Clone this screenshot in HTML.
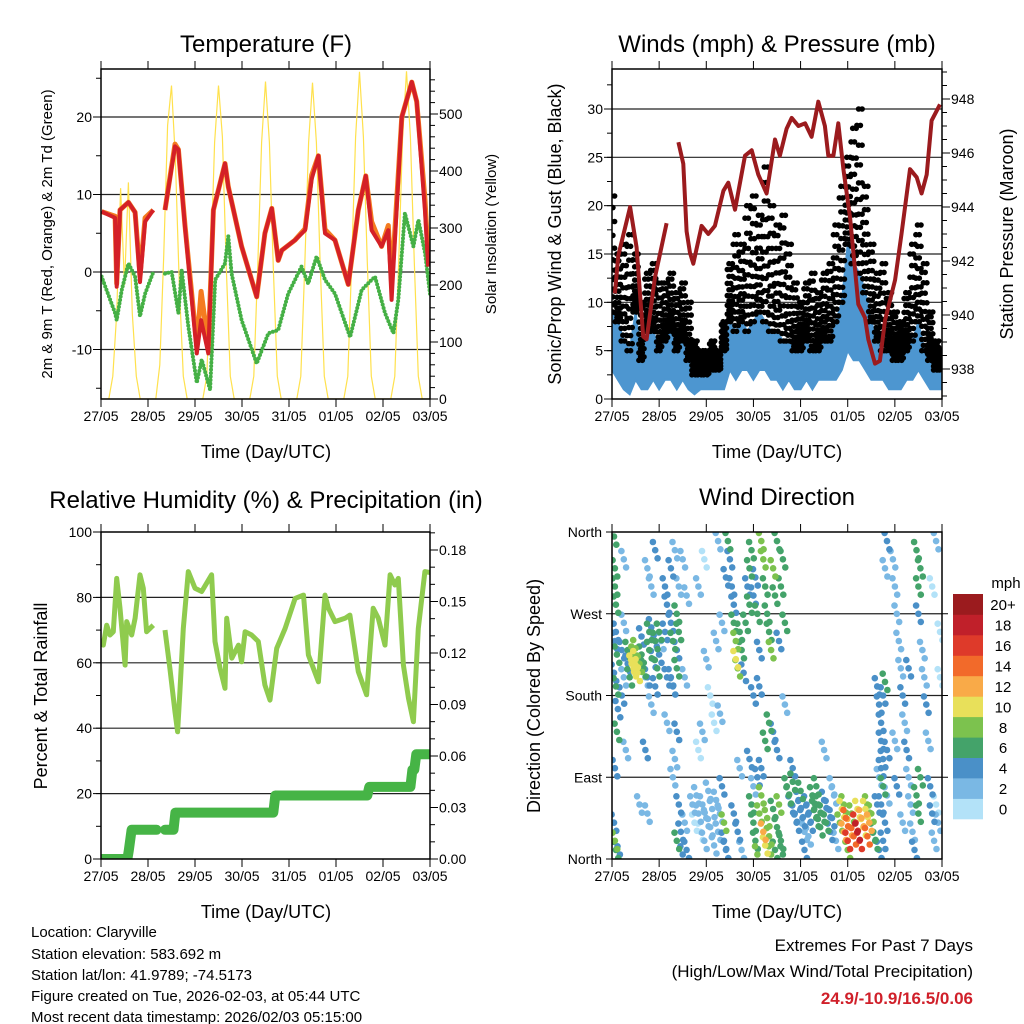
<!DOCTYPE html>
<html><head><meta charset="utf-8"><style>
html,body{margin:0;padding:0;background:#fff;}
svg{display:block;font-family:"Liberation Sans",Arial,sans-serif;}
</style></head><body>
<svg id="fig" width="1024" height="1024" viewBox="0 0 1024 1024" xmlns="http://www.w3.org/2000/svg">
<defs>
<clipPath id="c1"><rect x="101" y="69" width="329" height="330"/></clipPath>
<clipPath id="c2"><rect x="612" y="69" width="330" height="330"/></clipPath>
<clipPath id="c3"><rect x="101" y="532" width="329" height="327"/></clipPath>
<clipPath id="c4"><rect x="612" y="532" width="330" height="327"/></clipPath>
</defs>
<text x="266" y="52" font-size="24" text-anchor="middle">Temperature (F)</text>
<text x="777" y="52" font-size="24" text-anchor="middle">Winds (mph) &amp; Pressure (mb)</text>
<text x="266" y="508" font-size="24" text-anchor="middle">Relative Humidity (%) &amp; Precipitation (in)</text>
<text x="777" y="505" font-size="24" text-anchor="middle">Wind Direction</text>
<text transform="translate(52,234) rotate(-90)" font-size="15" text-anchor="middle">2m &amp; 9m T (Red, Orange) &amp; 2m Td (Green)</text>
<text transform="translate(496,234) rotate(-90)" font-size="15" text-anchor="middle">Solar Insolation (Yellow)</text>
<text transform="translate(561,234) rotate(-90)" font-size="18" text-anchor="middle">Sonic/Prop Wind &amp; Gust (Blue, Black)</text>
<text transform="translate(1013,234) rotate(-90)" font-size="18" text-anchor="middle">Station Pressure (Maroon)</text>
<text transform="translate(47,696) rotate(-90)" font-size="18" text-anchor="middle">Percent &amp; Total Rainfall</text>
<text transform="translate(540,696) rotate(-90)" font-size="18" text-anchor="middle">Direction (Colored By Speed)</text>
<text x="266" y="458" font-size="18" text-anchor="middle">Time (Day/UTC)</text>
<text x="777" y="458" font-size="18" text-anchor="middle">Time (Day/UTC)</text>
<text x="266" y="918" font-size="18" text-anchor="middle">Time (Day/UTC)</text>
<text x="777" y="918" font-size="18" text-anchor="middle">Time (Day/UTC)</text>
<g font-size="15">
<text x="31" y="937">Location: Claryville</text>
<text x="31" y="959">Station elevation: 583.692 m</text>
<text x="31" y="980">Station lat/lon: 41.9789; -74.5173</text>
<text x="31" y="1001">Figure created on Tue, 2026-02-03, at 05:44 UTC</text>
<text x="31" y="1022">Most recent data timestamp: 2026/02/03 05:15:00</text>
</g>
<g text-anchor="end">
<text x="973" y="951" font-size="17">Extremes For Past 7 Days</text>
<text x="973" y="977" font-size="17">(High/Low/Max Wind/Total Precipitation)</text>
<text x="973" y="1004" font-size="17" font-weight="bold" fill="#d0202a">24.9/-10.9/16.5/0.06</text>
</g>
<g id="layer"></g>
</svg>
<script>
// ---- data ----
const dayLabels=["27/05","28/05","29/05","30/05","31/05","01/05","02/05","03/05"];
const tempHours=[0.3,7.2,8,9.7,14,17.4,19.9,22.5,26.7,null,32.7,37.8,39.5,42.9,48.9,51.1,54.8,57.4,63.3,65,71.8,79.5,83.7,87.2,90.5,92.3,99,104.2,107.6,111,114.4,119.5,126.3,131.4,135.2,138.2,143.3,146.7,148.4,153.6,158.7,161.2,165.4,167.1];
const temp2m=[7.8,7,-1.9,8,9,7.7,-1.3,6.5,8,null,8,16.2,15.8,5.8,-10.5,-6.2,-10.5,8,14,11,3.3,-3.2,5,8.2,1.5,2.8,4.1,5.4,12,15,5,4.1,-1.6,8,12.4,5.4,3.3,5.4,-3.6,20,24.5,22,8,0.7];
const temp9m=[7.8,7.2,-1.5,8,9,7.7,-0.5,7,8,null,8,16.5,15.8,6,-9.5,-2.5,-9.5,8,14,11,3.3,-3.2,5,8.2,1.5,2.8,4.1,5.6,12.5,15,5.5,4.1,-1.6,8,12.4,6.5,3.3,6,-1.5,20,24.5,22,9.5,2];
const dewHours=[0.3,7.2,8,10.6,14,17.4,19.9,22.5,26.7,null,32.7,36.1,39.5,41.2,44.6,48.9,51.4,55.7,58.3,63.3,65,66.7,71.8,79.5,85.5,90.5,95.6,102.4,105.8,110.1,114.4,119.5,127.2,133.1,139.9,145,149.3,151.8,155.2,159.5,162.1,165.5,168];
const dewPoint=[-0.6,-5.3,-6.2,-2.3,1.1,-0.6,-5.7,-2.8,0,null,-0.2,0,-5.3,0.2,-7,-14.3,-11.3,-15.2,-1,1.1,4.6,-0.2,-6.2,-11.8,-7.9,-7.5,-2.8,0.7,-1.5,2,-1,-2.8,-8.4,-2.3,-0.6,-5.3,-7.9,-3.6,7.6,3.3,6.7,2.4,-2.8];
const solarHours=[0,2,4,6,8,10,12,14,16,18,20,22,24,26,28,30,32,34,36,38,40,42,44,46,48,50,52,54,56,58,60,62,64,66,68,70,72,74,76,78,80,82,84,86,88,90,92,94,96,98,100,102,104,106,108,110,112,114,116,118,120,122,124,126,128,130,132,134,136,138,140,142,144,146,148,150,152,154,156,158,160,162,164,166,168];
const solar=[0,0,0,40,150,370,200,380,150,40,0,0, 0,0,0,60,250,480,550,420,200,40,0,0, 0,0,0,40,230,450,550,460,230,40,0,0, 0,0,0,40,230,450,557,450,230,40,0,0, 0,0,0,40,230,450,555,450,230,40,0,0, 0,0,0,40,240,460,574,460,240,40,0,0, 0,0,0,40,240,460,575,460,240,40,0,0, 0];
const windHours=[0,3,6,9,12,15,18,21,24,27,30,33,36,39,42,45,48,51,54,57,60,63,66,69,72,75,78,81,84,87,90,93,96,99,102,105,108,111,114,117,120,123,126,129,132,135,138,141,144,147,150,153,156,159,162,165,168];
const gustTop=[21,15,16,17,15,10,13,14,12,12,13,11,12,10,6,5,5,6,5,8,14,17,16,20,21,19,24,20,18,19,16,12,10,12,13,11,13,14,18,22,25,28,30,22,16,13,14,11,9,8,11,16,18,14,9,6,5];
const windHigh=[9,8,6,5,9,4,7,7,5,6,7,5,6,4,2.5,2.5,2.5,3,3,5,8,7,8,7,8,9,8,7,7,6,6,5,5,6,5,5,6,6,8,10,16,14,13,11,8,6,5,5,4,4,5,6,8,5,4,3,3];
const windLow=[3,2,1,0.5,2,1,1,2,1,2,2,1,2,1,0.5,1,1,1,1,1,3,2,3,3,2,3,3,2,2,1,2,1,1,2,1,2,2,2,2,3,5,4,4,3,2,2,2,1,1,1,2,2,3,2,1,1,1];
const presHours=[1.5,3.2,9.2,12.5,15.9,17.6,21.9,27.8,null,33.8,36.3,38,39.7,41.4,45.6,49,52.4,56.7,59.2,62.6,67.7,71.1,74.5,78.7,83,85.5,88.9,91.5,94.9,98.3,101.6,105,108.4,110.1,112.7,115.2,117.8,121.2,125.4,128.8,130.5,133.9,136.4,139,144.1,147.4,151.7,155.1,157.6,160.2,162.7,167];
const pressure=[940.8,942.2,944.0,942.5,939.2,939.1,941.4,943.4,null,946.4,945.6,943.1,942.3,941.9,943.3,943.0,943.3,944.6,944.9,943.9,945.9,946.1,945.2,944.5,946.5,945.9,946.9,947.3,947.0,947.1,946.6,947.9,947.0,945.9,945.9,947.1,945.4,943.6,940.4,939.9,939.1,938.2,938.3,939.8,941.3,943.0,945.4,945.1,944.5,945.2,947.2,947.8];
const rhHours=[0.3,1.2,2.9,4.6,6.3,8,9.7,12.3,13.1,15.7,17.4,19.9,21.6,23.3,26.7,null,32.7,35.2,37.8,39.1,40.3,42,44.6,48,51.4,56.5,58.2,60.8,63.3,64.2,66.8,70.2,71.8,73.6,76.9,80.3,83.7,86.3,89.7,94,99.1,103.4,105.9,111,114.4,116.1,119.5,124.6,127.1,131.4,135.6,139,141.6,145,147.6,150.1,151.8,154.4,157,159.5,162,165.4,168];
const rh=[67.5,65.4,71.5,68.5,69.5,85.8,76.7,59.3,72.6,68.5,73.6,86.9,82.8,69.5,71.5,null,70,58.3,45,38.9,51.2,70.5,87.9,82.8,81.8,86.9,66.5,58.3,52.2,73.6,61.4,65.4,60.3,69.5,68.5,66.5,53.2,48.6,64.4,70.5,79.7,80.7,62.4,54.2,80.7,76.7,72.6,73.6,74.6,57.3,50.2,76.7,73.6,65.4,86.9,83.8,85.8,59.3,49.1,42,70.5,87.9,87.6];
const precipHours=[0,13.5,14.2,15.6,28.4,null,32.7,37,38,88,89,136,137,158,159,160,161,168];
const precip=[0,0,0.005,0.017,0.017,null,0.017,0.017,0.027,0.027,0.037,0.037,0.042,0.042,0.052,0.052,0.061,0.061];
const dirHours=[1,1.5,1.5,2,2,1.5,2.5,1,2,3,2.5,1.5,1,1.5,2,4,6,6,5,6,5,7,8,8,
10,11,12,13,11,14,12,9,15,16,17,15,18,19,19,20,21,22,23,22,24,25,24,20,18,22,17,18,14,20,
27,28,27,28,30,31,30,31,33,33,34,33,30,32,34,28,33,32,34,35,33,36,37,38,36,38,37,31,
41,42,43,44,45,46,47,48,49,50,51,52,53,54,55,56,57,57,58,44,46,52,55,50,48,53,56,44,47,54,58,
59,60,61,62,62,63,63,64,65,66,67,68,69,70,70,71,72,73,74,75,76,77,78,79,80,81,82,83,84,85,86,87,88,75,72,80,82,78,70,65,84,88,
71,72,73,74,75,76,77,78,79,80,81,82,83,84,85,86,87,74,76,72,64,66,62,
89,90,91,92,93,94,95,96,97,98,99,100,101,102,103,104,105,106,107,108,109,110,111,112,113,114,96,100,104,92,108,112,98,
116,117,118,119,120,121,122,123,124,125,126,127,128,129,130,131,132,133,134,135,118,125,130,120,
135,136,137,137,138,137,136,138,137,139,138,136,139,138,140,140,139,140,
143,144,145,146,147,148,149,150,151,152,153,154,155,156,157,156,158,159,160,161,162,163,164,165,166,167,167,165,163,155,156,157,145,148,151,144];
const dirDegrees=[355,320,300,280,250,240,225,205,190,165,140,100,40,20,10,5,330,260,230,200,180,120,215,230,
215,210,220,205,225,215,232,200,225,210,200,245,200,230,250,255,220,240,210,190,225,240,250,300,320,340,120,50,60,170,
300,280,250,200,260,240,200,190,230,210,250,270,320,340,300,150,140,110,60,30,20,5,40,10,330,290,200,90,
60,40,70,50,30,60,20,45,75,35,55,15,65,30,50,80,20,40,10,120,140,150,160,180,220,240,260,300,330,350,310,
350,330,300,280,260,240,220,210,250,230,205,260,300,280,320,340,290,310,270,230,350,330,300,270,250,230,320,290,350,240,300,330,260,190,180,150,140,130,110,100,120,170,
60,40,20,5,50,70,30,15,45,25,5,55,10,35,60,20,5,90,100,80,30,10,50,
80,70,60,85,50,40,65,55,45,30,60,50,40,70,55,45,60,35,50,65,40,55,30,45,70,20,75,25,80,100,120,80,10,
40,55,30,45,20,35,50,25,40,30,20,45,35,55,25,40,50,30,20,60,60,55,60,10,
190,170,150,130,110,100,90,80,60,40,20,10,195,180,120,70,320,350,
330,300,270,240,210,180,150,120,90,60,30,10,340,300,320,270,230,200,170,130,80,50,20,60,40,200,250,350,300,70,50,90,80,40,210,130];
const dirSpeeds=[6,7,6,7,5,4,6,4,6,5,7,4,5,8,6,4,2,3,4,3,5,2,5,6,
10,10,10,10,9,8,8,6,7,6,3,4,5,7,6,4,5,7,6,4,4,3,6,3,2,4,4,2,2,3,
4,4,5,4,5,6,4,5,5,6,7,7,4,2,3,3,4,2,5,4,6,5,3,4,2,3,2,2,
2,1,2,2,1,2,2,3,2,2,3,3,2,3,2,4,5,8,4,1,2,1,2,1,2,3,2,2,1,2,4,
6,5,4,5,7,8,10,9,6,6,4,6,5,7,6,6,4,5,6,5,8,8,6,6,7,8,8,6,6,4,7,7,6,4,4,6,5,7,4,3,4,3,
7,6,6,8,9,8,12,10,8,9,8,7,6,7,8,6,7,5,4,3,4,3,4,
6,7,5,6,4,5,4,4,4,3,4,4,5,6,6,7,7,6,7,5,6,5,4,4,3,3,7,3,6,4,2,3,4,
8,10,12,14,16,12,9,14,16,18,17,12,10,11,14,12,9,7,6,5,9,10,9,8,
4,5,4,4,4,5,3,6,4,5,4,5,6,4,4,3,3,4,
2,3,2,3,2,4,2,4,3,2,3,4,7,6,7,4,2,3,4,2,5,4,3,1,3,1,1,2,1,7,6,7,4,2,5,2];
const speedColors=["#b3e2f8","#7ab8e4","#4a90c8","#44a36a","#7cc24e","#e8e05a","#f9aa48","#f26a2a","#de3a2a","#c0202a","#9b1b1e"];
const speedLabels=["0","2","4","6","8","10","12","14","16","18","20+"];

// ---- helpers ----
const NS="http://www.w3.org/2000/svg";
const layer=document.getElementById('layer');
function mk(tag,attrs,parent){const e=document.createElementNS(NS,tag);for(const k in attrs)e.setAttribute(k,attrs[k]);(parent||layer).appendChild(e);return e;}
function lin(d0,d1,r0,r1){return v=>r0+(v-d0)/(d1-d0)*(r1-r0);}
function pathD(xs,ys,fx,fy){let d="",pen=false;for(let i=0;i<xs.length;i++){if(xs[i]===null||ys[i]===null){pen=false;continue;}d+=(pen?"L":"M")+fx(xs[i]).toFixed(1)+","+fy(ys[i]).toFixed(1);pen=true;}return d;}

const P=[{x0:101,x1:430,y0:69,y1:399},{x0:612,x1:942,y0:69,y1:399},{x0:101,x1:430,y0:532,y1:859},{x0:612,x1:942,y0:532,y1:859}];
const X=P.map(p=>lin(0,168,p.x0,p.x1));
const yT=lin(0,10,272,194.5), yS=lin(0,100,399,342);
const yW=lin(0,30,399,109), yP=lin(948,938,99,369);
const yRH=lin(0,100,859,532), yPr=lin(0,0.03,859,807.5);
const yD=lin(0,360,859,532);

function grid(pi,vals,fy,name){const p=P[pi];vals.forEach(v=>{const l=mk('line',{x1:p.x0,x2:p.x1,y1:fy(v),y2:fy(v),stroke:'#222','stroke-width':1.2});

});}
function yTicks(pi,side,vals,fy,len,labels,name){const p=P[pi];const x=side==='l'?p.x0:p.x1;const s=side==='l'?-1:1;
vals.forEach((v,i)=>{const l=mk('line',{x1:x,x2:x+s*len,y1:fy(v),y2:fy(v),stroke:'#000','stroke-width':1});


if(labels&&labels[i]!==undefined&&labels[i]!==""){const t=mk('text',{x:x+s*(len+4),y:fy(v)+5,'font-size':14,'text-anchor':side==='l'?'end':'start'});t.textContent=labels[i];

}});}
function frame(pi){const p=P[pi];const r=mk('rect',{x:p.x0,y:p.y0,width:p.x1-p.x0,height:p.y1-p.y0,fill:'none',stroke:'#000','stroke-width':1.5});


dayLabels.forEach((lab,i)=>{const x=X[pi](i*24);
const a=mk('line',{x1:x,x2:x,y1:p.y1,y2:p.y1+8,stroke:'#000'});


const b=mk('line',{x1:x,x2:x,y1:p.y0,y2:p.y0-8,stroke:'#000'});


const t=mk('text',{x:x,y:p.y1+22,'font-size':14,'text-anchor':'middle'});t.textContent=lab;

});}

// ---- Panel 1: Temperature ----
grid(0,[20,10,0,-10],yT,'temp-gridline');
const g1=mk('g',{'clip-path':'url(#c1)'});
let e=mk('path',{d:pathD(solarHours,solar,X[0],yS),fill:'none',stroke:'#ffe14d','stroke-width':1.2},g1);


e=mk('path',{d:pathD(dewHours,dewPoint,X[0],yT),fill:'none',stroke:'#45b045','stroke-width':4,'stroke-linecap':'round','stroke-dasharray':'0 3.5'},g1);


e=mk('path',{d:pathD(tempHours,temp9m,X[0],yT),fill:'none',stroke:'#f47b20','stroke-width':5,'stroke-linejoin':'round'},g1);


e=mk('path',{d:pathD(tempHours,temp2m,X[0],yT),fill:'none',stroke:'#d42027','stroke-width':4,'stroke-linejoin':'round'},g1);


frame(0);
yTicks(0,'l',[-15,-10,-5,0,5,10,15,20,25],yT,5,["","-10","","0","","10","","20",""],'temp-y');
yTicks(0,'l',[-10,0,10,20],yT,8,null,'temp-y-major');
{const v=[],l=[];for(let s=0;s<=560;s+=20){v.push(s);l.push(s%100===0?String(s):"");}yTicks(0,'r',v,yS,5,l,'solar-y');yTicks(0,'r',[0,100,200,300,400,500],yS,8,null,'solar-y-major');}

// ---- Panel 2: Winds ----
grid(1,[5,10,15,20,25,30],yW,'wind-gridline');
const g2=mk('g',{'clip-path':'url(#c2)'});
{let d="";windHours.forEach((h,i)=>{d+=(i?"L":"M")+X[1](h).toFixed(1)+","+yW(windHigh[i]).toFixed(1);});
for(let i=windHours.length-1;i>=0;i--)d+="L"+X[1](windHours[i]).toFixed(1)+","+yW(windLow[i]).toFixed(1);
e=mk('path',{d:d+"Z",fill:'#4d96d0',stroke:'#4d96d0','stroke-width':2},g2);

}
const fr=[0,0.06,0.13,0.2,0.28,0.36,0.45,0.55,0.66,0.78,0.9,1];
const offs=[-1.3,-0.45,0.45,1.3];
windHours.forEach((h,i)=>{fr.forEach((f,k)=>{offs.forEach((o,j)=>{if((k+j)%2)return;const v=windHigh[i]+f*(gustTop[i]-windHigh[i]);
const c=mk('circle',{cx:X[1](h+o).toFixed(1),cy:yW(v).toFixed(1),r:2.8,fill:'#000'},g2);

});});});
e=mk('path',{d:pathD(presHours,pressure,X[1],yP),fill:'none',stroke:'#9b1b1e','stroke-width':4,'stroke-linejoin':'round'},g2);


frame(1);
{const v=[],l=[];for(let s=0;s<=32.5;s+=2.5){v.push(s);l.push(s%5===0?String(s):"");}yTicks(1,'l',v,yW,5,l,'wind-y');yTicks(1,'l',[0,5,10,15,20,25,30],yW,8,null,'wind-y-major');}
{const v=[],l=[];for(let s=937;s<=949;s+=0.5){v.push(s);l.push(s%2===0?String(s):"");}yTicks(1,'r',v,yP,5,l,'pressure-y');yTicks(1,'r',[938,940,942,944,946,948],yP,8,null,'pressure-y-major');}

// ---- Panel 3: RH & Precip ----
grid(2,[20,40,60,80],yRH,'rh-gridline');
const g3=mk('g',{'clip-path':'url(#c3)'});
e=mk('path',{d:pathD(precipHours,precip,X[2],yPr),fill:'none',stroke:'#46b446','stroke-width':10,'stroke-linecap':'round','stroke-linejoin':'round'},g3);


e=mk('path',{d:pathD(rhHours,rh,X[2],yRH),fill:'none',stroke:'#8fcb4e','stroke-width':5,'stroke-linejoin':'round'},g3);


frame(2);
{const v=[],l=[];for(let s=0;s<=100;s+=10){v.push(s);l.push(s%20===0?String(s):"");}yTicks(2,'l',v,yRH,5,l,'rh-y');yTicks(2,'l',[0,20,40,60,80,100],yRH,8,null,'rh-y-major');}
{const v=[],l=[];for(let s=0;s<=19;s++){v.push(s/100);l.push(s%3===0?(s/100).toFixed(2):"");}yTicks(2,'r',v,yPr,5,l,'precip-y');yTicks(2,'r',[0,0.03,0.06,0.09,0.12,0.15,0.18],yPr,8,null,'precip-y-major');}

// ---- Panel 4: Wind Direction ----
grid(3,[90,180,270],yD,'direction-gridline');
const g4=mk('g',{'clip-path':'url(#c4)'});
const order=dirSpeeds.map((s,i)=>i).sort((a,b)=>dirSpeeds[a]-dirSpeeds[b]);
const dotOffs=[[0,0],[-1.2,9],[1.2,-9]];
order.forEach(i=>{const ci=Math.min(10,Math.floor(dirSpeeds[i]/2));
dotOffs.forEach(o=>{
const c=mk('circle',{cx:X[3](dirHours[i]+o[0]).toFixed(1),cy:yD(dirDegrees[i]+o[1]).toFixed(1),r:3.3,fill:speedColors[ci]},g4);

});});
frame(3);
yTicks(3,'l',[0,90,180,270,360],yD,6,["North","East","South","West","North"],'direction-y');
yTicks(3,'r',[90,180,270],yD,6,null,'direction-y-right');
// colorbar
speedColors.forEach((c,i)=>{const y=819-(i+1)*20.45;
const r=mk('rect',{x:953,y:y.toFixed(1),width:30,height:20.8,fill:c});


const t=mk('text',{x:1003,y:(y+16).toFixed(1),'font-size':15,'text-anchor':'middle'});t.textContent=speedLabels[i];

});
e=mk('text',{x:1006,y:588,'font-size':15,'text-anchor':'middle'});e.textContent="mph";


</script>
</body></html>
